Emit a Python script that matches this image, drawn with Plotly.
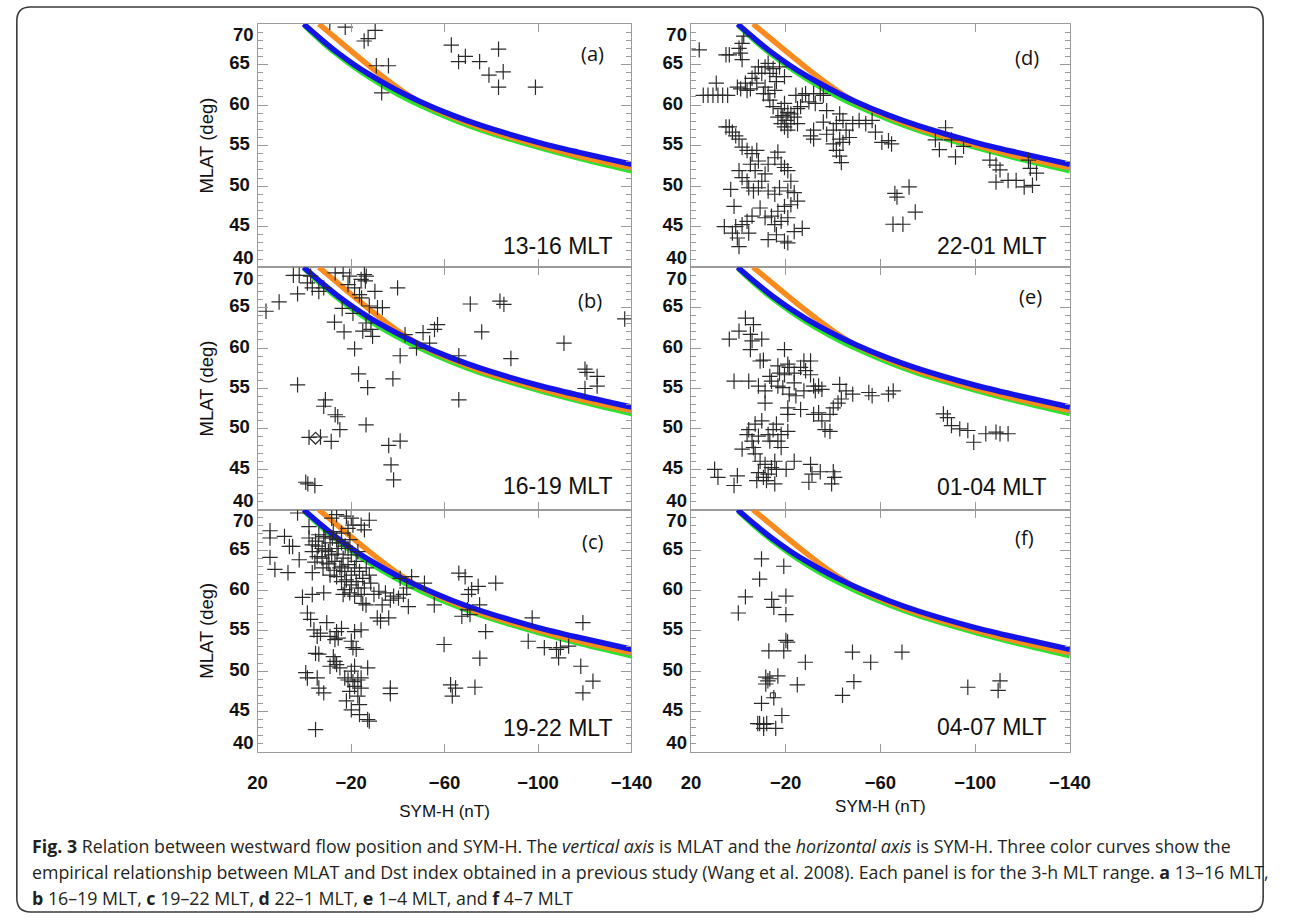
import plotly.graph_objects as go

# ---------------- data ----------------
# empirical MLAT-SYM-H curves
curve_sym_orange = [-6.2, -14.5, -21.5, -28.5, -35.4, -42.4, -49.4, -63.3, -75.9, -100, -117, -140]
curve_mlat_orange = [70.0, 68.0, 66.3, 64.65, 63.1, 61.65, 60.4, 58.55, 57.15, 55.05, 53.75, 52.25]
curve_sym_green = [0.0, -7.6, -14.5, -21.5, -28.5, -35.4, -42.4, -49.4, -63.3, -75.9, -100, -117, -140]
curve_mlat_green = [69.85, 67.8, 66.15, 64.65, 63.3, 62.1, 61.0, 60.0, 58.25, 56.9, 54.8, 53.5, 51.9]
curve_sym_blue = [0.3, -7.6, -14.5, -21.5, -28.5, -35.4, -42.4, -49.4, -63.3, -75.9, -100, -117, -140]
curve_mlat_blue = [70.0, 68.02, 66.4, 64.95, 63.65, 62.5, 61.43, 60.45, 58.75, 57.45, 55.4, 54.2, 52.7]

x_tick_vals = [20, -20, -60, -100, -140]
x_tick_text = ["20", "\u221220", "\u221260", "\u2212100", "\u2212140"]
y_tick_vals = [40, 45, 50, 55, 60, 65, 70]
y_tick_text = ["", "45", "50", "55", "60", "65", ""]
y_end_vals = [41.15, 68.65]
y_end_text = ["40", "70"]

panel_letters = ["(a)", "(b)", "(c)", "(d)", "(e)", "(f)"]
panel_mlt = ["13-16 MLT", "16-19 MLT", "19-22 MLT", "22-01 MLT", "01-04 MLT", "04-07 MLT"]

pts_a = [(-10.9, 70.2), (-17.5, 69.6), (-25.6, 67.9), (-27.3, 68.2), (-30.3, 69.2),
         (-30.8, 64.85), (-36.0, 64.85), (-33.1, 61.5), (-62.9, 67.4), (-66.0, 65.35),
         (-68.9, 66.0), (-75.0, 65.35), (-83.1, 66.9), (-79.0, 63.7), (-85.1, 64.1),
         (-83.1, 62.2), (-98.9, 62.2)]

pts_b = [(16.4, 64.55), (10.8, 65.7), (4.7, 69.0), (2.9, 66.7), (2.2, 69.0), (-1.3, 68.05),
         (-3.4, 67.45), (-6.2, 67.0), (-8.3, 67.45), (-2.7, 68.9), (-13.2, 69.3), (-16.6, 69.3),
         (-19.4, 68.9), (-18.7, 67.85), (-21.5, 67.45), (-24.3, 68.5), (-25.7, 69.1), (-26.5, 68.9),
         (-26.1, 68.3), (-23.6, 66.6), (-24.5, 66.2), (-30.2, 67.0), (-39.9, 67.45), (-16.2, 64.9),
         (-20.8, 64.3), (-27.8, 65.2), (-31.3, 65.0), (-33.4, 65.0), (-12.9, 63.2), (-17.0, 62.0),
         (-25.0, 62.1), (-28.5, 62.3), (-29.2, 61.45), (-26.4, 63.1), (-21.5, 59.9), (-41.0, 59.05),
         (-43.1, 61.65), (-50.8, 61.9), (-55.7, 62.3), (-57.0, 62.9), (-48.0, 60.0), (-53.6, 60.6),
         (-66.1, 59.05), (-71.0, 65.45), (-75.9, 62.0), (2.9, 55.45), (-23.2, 56.8), (-27.1, 55.1),
         (-37.9, 56.2), (-66.1, 53.6), (-9.0, 53.6), (-8.3, 52.8), (-13.2, 51.75), (-14.3, 51.5),
         (-15.2, 49.9), (-26.4, 50.5), (-2.0, 48.95), (-6.9, 49.0), (-11.5, 48.45), (-36.1, 47.95),
         (-41.0, 48.5), (-37.1, 45.55), (-38.2, 43.7), (-0.6, 43.4), (-1.5, 43.2), (-4.5, 43.0),
         (-83.7, 65.8), (-85.4, 65.4), (-88.4, 58.7), (-111.1, 60.6), (-120.1, 57.4), (-120.9, 57.0),
         (-125.3, 56.5), (-120.1, 55.0), (-125.3, 55.3), (-137.1, 63.6)]
pts_b_diamond = [(-4.8, 48.85)]

pts_c = [(14.7, 67.4), (14.7, 66.5), (14.7, 64.1), (12.6, 62.6), (8.5, 66.7), (7.0, 62.2),
         (6.4, 65.45), (5.0, 65.45), (2.2, 63.8), (2.9, 69.6), (-2.0, 67.9), (-3.4, 62.2),
         (0.8, 59.15), (-3.4, 59.5), (-8.3, 59.7),
         (-2.0, 66.5), (-3.4, 65.65), (-4.8, 66.1), (-6.2, 66.9), (-7.6, 65.2), (-8.9, 66.5),
         (-10.3, 64.8), (-3.4, 64.8), (-5.5, 64.2), (-7.6, 64.0), (-9.6, 63.4), (-11.7, 64.4),
         (-13.1, 63.6), (-14.5, 65.2), (-15.2, 62.8), (-16.6, 64.0), (-17.3, 62.35), (-18.7, 63.2),
         (-20.1, 61.9), (-21.5, 62.8), (-22.2, 61.1), (-23.6, 62.35), (-25.0, 61.5), (-25.7, 60.3),
         (-27.8, 61.9), (-28.4, 60.9), (-20.1, 60.7), (-17.3, 60.1), (-16.6, 59.5), (-19.4, 59.7),
         (-21.5, 59.3), (-24.3, 59.5), (-25.0, 58.4), (-26.4, 58.2), (-8.3, 66.7), (-11.0, 65.9),
         (-13.8, 66.3), (-12.4, 67.3), (-15.9, 67.1), (-18.7, 67.7), (-20.1, 68.95), (-18.0, 69.2),
         (-25.7, 67.5), (-27.8, 68.7), (-24.3, 68.1), (-20.8, 68.1), (-11.7, 68.95), (-13.8, 69.4),
         (-15.9, 61.1), (-13.8, 61.7), (-11.0, 61.9), (-22.2, 63.6), (-22.9, 64.8), (-20.1, 64.4),
         (-15.9, 65.9), (-18.7, 65.2), (-6.0, 65.5), (-9.0, 65.0), (-12.0, 66.5), (-14.0, 64.5),
         (-16.0, 63.0), (-10.5, 63.3), (-8.0, 62.8), (-19.5, 66.3), (-17.5, 65.5), (-12.8, 62.5),
         (-4.5, 63.5), (-23.0, 60.3), (-26.5, 62.8), (-18.0, 61.3),
         (-29.8, 59.5), (-31.9, 59.9), (-34.7, 59.7), (-36.8, 58.8), (-38.2, 59.3), (-40.3, 59.05),
         (-42.4, 59.5), (-44.5, 58.0), (-43.8, 60.3), (-41.0, 61.5), (-45.9, 61.7), (-51.4, 60.9),
         (-55.6, 58.2), (-33.3, 58.2), (-32.6, 56.2), (-36.1, 56.6), (-31.2, 56.6),
         (-1.3, 57.2), (-2.7, 56.4), (-4.1, 55.1), (-5.5, 54.3), (-6.9, 54.7), (-9.6, 56.0),
         (-11.0, 54.3), (-13.8, 54.9), (-13.1, 53.9), (-14.5, 54.1), (-15.9, 55.3), (-21.5, 54.9),
         (-24.3, 55.1), (-20.1, 53.7), (-20.8, 52.9), (-22.2, 52.7), (-4.8, 52.2), (-6.2, 52.1),
         (-12.4, 51.8), (-13.1, 51.2), (-13.8, 50.8), (-11.0, 50.6), (-15.2, 50.4), (-21.5, 50.6),
         (-20.1, 50.0), (-27.1, 50.4), (-0.6, 49.8), (-1.3, 49.15), (-5.5, 49.15), (-6.2, 47.9),
         (-8.3, 47.3), (-17.3, 49.15), (-18.7, 48.9), (-20.8, 48.7), (-22.9, 48.9), (-24.3, 49.15),
         (-21.5, 48.1), (-19.4, 47.5), (-24.3, 47.9), (-22.9, 46.9), (-18.0, 46.3), (-20.1, 45.2),
         (-23.6, 45.85), (-23.6, 44.6), (-27.1, 44.0), (-27.8, 43.8), (-4.8, 42.75), (-36.8, 47.9),
         (-36.8, 47.2),
         (-66.1, 62.15), (-68.8, 61.7), (-71.6, 60.1), (-74.4, 60.5), (-70.2, 59.5), (-67.4, 56.8),
         (-70.9, 57.0), (-59.8, 53.3), (-62.6, 48.3), (-63.3, 46.9), (-64.7, 47.9), (-73.0, 48.0),
         (-75.1, 51.6), (-81.9, 60.9), (-75.0, 58.2), (-77.6, 54.9), (-69.8, 57.6), (-97.5, 56.6),
         (-95.8, 53.7), (-102.7, 52.9), (-107.9, 52.7), (-109.6, 52.9), (-108.8, 51.65),
         (-113.1, 53.1), (-119.2, 56.0), (-118.3, 50.6), (-123.5, 48.75), (-119.2, 47.3)]

pts_d = [(16.5, 66.8), (14.8, 61.2), (12.8, 61.2), (10.7, 61.2), (8.6, 61.2), (6.6, 61.2),
         (4.5, 61.2), (9.3, 62.7), (5.2, 66.2), (3.8, 66.2), (-0.3, 67.0), (-1.6, 67.6),
         (-0.9, 66.4), (-1.6, 65.6), (-2.3, 68.5),
         (0.4, 62.2), (-1.0, 62.0), (-3.0, 62.7), (-3.7, 61.8), (-5.1, 62.0), (-5.8, 63.3),
         (-7.1, 63.9), (-8.5, 64.7), (-9.9, 63.9), (-11.3, 64.7), (-12.6, 65.15), (-13.3, 63.9),
         (-14.7, 64.5), (-16.1, 62.9), (-15.4, 61.8), (-11.3, 62.2), (-12.6, 61.4), (-10.6, 61.4),
         (-13.3, 60.6), (-14.7, 59.8), (-18.1, 59.55), (-19.5, 60.2), (-20.9, 59.1), (-18.8, 58.7),
         (-16.7, 58.5), (-18.1, 57.7), (-20.2, 58.1), (-22.2, 58.9), (-23.6, 58.5), (-25.0, 59.55),
         (-26.3, 59.8), (-27.0, 61.2), (-24.3, 61.2), (-28.4, 61.4), (-29.8, 60.4), (-22.2, 57.7),
         (-25.0, 57.7), (-19.5, 57.3), (-20.9, 56.9), (-17.4, 64.7), (-19.5, 63.5), (-16.1, 63.5),
         (-7.8, 62.7),
         (-31.8, 61.4), (-34.6, 61.4), (-35.9, 61.2), (-32.5, 60.2), (-37.3, 59.3), (-35.9, 57.9),
         (-31.8, 56.9), (-30.5, 56.2), (-31.8, 55.8), (-37.3, 56.4), (-40.1, 56.9), (-41.4, 57.7),
         (-42.8, 58.9), (-44.2, 58.1), (-45.5, 56.9), (-46.9, 56.0), (-42.8, 55.8), (-44.2, 55.4),
         (-40.1, 55.2), (-41.4, 54.4), (-42.8, 53.7), (-43.5, 52.9), (-48.3, 57.7), (-51.0, 58.1),
         (-53.8, 57.7), (-56.5, 58.1), (-57.9, 56.65), (-60.6, 55.4), (-63.4, 55.6), (-64.7, 55.2),
         (5.2, 57.3), (3.8, 57.3), (2.5, 56.65), (1.1, 56.2), (-0.3, 55.8), (-1.6, 54.8),
         (-3.7, 54.4), (-5.8, 54.0), (-7.8, 54.4), (-8.5, 53.1), (-5.1, 52.7), (-7.1, 51.9),
         (-0.3, 51.9), (-1.6, 51.05), (-3.7, 50.6), (-4.4, 49.8), (-6.4, 49.4), (-8.5, 49.8),
         (-9.9, 50.6), (-11.3, 51.5), (-12.6, 52.7), (-15.4, 53.5), (-16.7, 54.2), (-18.1, 52.7),
         (-19.5, 52.3), (-20.9, 51.9), (-22.2, 50.6), (-12.6, 49.4), (-15.4, 49.0), (-17.4, 49.8),
         (-20.9, 49.4), (-23.6, 49.2), (-25.0, 48.15), (-22.2, 47.7), (-19.5, 47.5), (-16.7, 46.9),
         (-14.0, 46.3), (-11.3, 46.1), (-9.2, 47.3), (-5.8, 46.3), (-3.7, 45.65), (-1.6, 45.25),
         (1.1, 45.0), (5.9, 45.0), (2.5, 44.2), (0.4, 43.6), (-0.3, 42.55), (-4.4, 44.2),
         (-12.6, 43.4), (-16.1, 44.0), (-19.5, 43.2), (-20.9, 43.0), (-23.6, 44.4), (-27.0, 44.8),
         (-15.4, 45.25), (-18.1, 45.65), (-20.9, 46.1), (3.2, 49.6), (1.8, 47.5),
         (-66.1, 49.1), (-67.0, 48.65), (-72.1, 49.9), (-65.3, 45.3), (-69.5, 45.3), (-74.7, 46.8),
         (-87.5, 57.2), (-84.9, 54.5), (-83.2, 55.7), (-90.0, 55.7), (-91.7, 53.6), (-95.1, 54.9),
         (-106.2, 53.2), (-108.8, 52.6), (-110.5, 52.0), (-108.8, 50.5), (-113.9, 50.7),
         (-117.3, 50.7), (-120.7, 49.9), (-124.2, 50.1), (-125.9, 51.6), (-122.5, 53.2),
         (-123.3, 52.2)]

pts_e = [(-3.0, 63.7), (-6.4, 62.9), (-0.3, 62.1), (3.8, 61.1), (-5.1, 61.7), (-5.8, 60.9),
         (-9.9, 61.1), (-5.1, 59.8), (-19.5, 59.8), (-9.2, 58.4), (-10.6, 58.5), (-16.7, 57.8),
         (-20.9, 58.0), (-21.5, 57.6), (-17.4, 56.9), (-19.5, 56.7), (-23.6, 56.9), (-26.3, 57.6),
         (-27.7, 58.4), (-30.5, 58.4), (-28.4, 57.2), (-30.5, 56.7), (-13.3, 56.5), (-14.0, 55.9),
         (1.8, 55.9), (-4.4, 55.9), (-8.5, 55.3), (-11.3, 54.7), (-11.3, 53.2), (-16.7, 55.3),
         (-18.8, 55.1), (-21.5, 54.3), (-24.3, 54.1), (-23.6, 55.7), (-27.7, 54.7), (-26.3, 52.4),
         (-31.8, 55.3), (-33.9, 55.3), (-35.3, 54.9), (-32.5, 54.7), (-20.9, 52.6), (-20.9, 51.8),
         (-31.8, 51.8), (-33.9, 52.0), (-35.3, 51.0), (-36.6, 49.9), (-38.7, 49.7), (-38.7, 51.8),
         (-40.1, 52.6), (-42.1, 53.2), (-43.5, 53.7), (-42.8, 55.5), (-45.5, 54.7), (-48.3, 54.3),
         (-55.1, 54.5), (-56.5, 54.1), (-63.4, 54.3), (-65.4, 54.7), (-4.4, 49.9), (-7.1, 50.6),
         (-9.9, 51.0), (-3.7, 49.3), (-5.8, 48.5), (-1.6, 47.5), (-6.4, 47.7), (-8.5, 49.1),
         (-12.6, 49.3), (-14.7, 49.9), (-16.1, 50.6), (-18.1, 49.3), (-20.9, 49.7), (-16.7, 48.5),
         (-18.1, 47.7), (-13.3, 48.5), (-7.1, 46.9), (-9.2, 46.0), (-11.3, 45.6), (-14.0, 45.2),
         (-16.1, 45.0), (-20.2, 45.0), (-23.6, 46.0), (-8.5, 44.6), (-10.6, 44.0), (-12.6, 44.4),
         (-11.9, 43.6), (-15.4, 43.2), (-7.8, 43.6), (10.0, 45.0), (8.6, 44.0), (0.4, 44.2),
         (1.8, 43.0), (-30.5, 45.6), (-31.1, 44.4), (-29.8, 43.4), (-34.6, 44.7), (-40.1, 44.7),
         (-40.7, 44.0), (-39.4, 43.2), (-15.4, 46.0),
         (-86.6, 51.85), (-88.3, 51.4), (-90.0, 50.4), (-93.5, 50.0), (-96.9, 49.8), (-99.4, 48.35),
         (-104.5, 49.4), (-108.8, 49.6), (-110.5, 49.4), (-113.9, 49.4)]

pts_f = [(-9.8, 63.9), (-19.2, 63.0), (-9.0, 61.4), (-3.0, 59.2), (0.0, 57.2), (-14.1, 58.9),
         (-15.0, 57.9), (-20.1, 59.3), (-20.1, 57.0), (-20.1, 53.8), (-20.8, 53.6), (-19.2, 52.5),
         (-12.9, 52.5), (-28.3, 51.1), (-48.2, 52.35), (-55.9, 51.1), (-69.1, 52.35), (-48.8, 48.7),
         (-44.0, 47.0), (-24.9, 48.3), (-11.6, 49.25), (-13.3, 49.05), (-11.6, 48.4), (-16.7, 49.4),
         (-12.5, 48.8), (-15.0, 46.7), (-9.8, 46.0), (-18.4, 44.5), (-9.0, 43.5), (-10.7, 43.4),
         (-12.0, 43.5), (-8.2, 43.5), (-10.7, 42.9), (-15.8, 42.9), (-96.9, 48.0), (-110.5, 48.8),
         (-109.7, 47.6)]
pts_f_square = [(-14.6, 47.0)]

panel_points = [pts_a, pts_b, pts_c, pts_d, pts_e, pts_f]

caption_lines = [
    "<b>Fig. 3</b> Relation between westward flow position and SYM-H. The <i>vertical axis</i> is MLAT and the <i>horizontal axis</i> is SYM-H. Three color curves show the",
    "empirical relationship between MLAT and Dst index obtained in a previous study (Wang et al. 2008). Each panel is for the 3-h MLT range. <b>a</b> 13\u201316 MLT,",
    "<b>b</b> 16\u201319 MLT, <b>c</b> 19\u201322 MLT, <b>d</b> 22\u20131 MLT, <b>e</b> 1\u20134 MLT, and <b>f</b> 4\u20137 MLT",
]

# ---------------- layout constants ----------------
W, H = 1290, 920
AX_GRAY = "#9a9a9a"
SANS = "Liberation Sans"
X_DOMS = [[253.7 / W, 636.8 / W], [697.7 / W, 1086.0 / W]]
ROW_PIX = [(24.0, 267.5), (267.5, 510.3), (510.3, 752.6)]
Y_DOMS = [[1 - b / H, 1 - t / H] for (t, b) in ROW_PIX]

letter_pos = [(0.896, 0.878), (0.890, 0.862), (0.896, 0.870),
              (0.886, 0.864), (0.897, 0.880), (0.881, 0.885)]
mlt_pos = [(0.956, 0.088), (0.956, 0.097), (0.956, 0.100),
           (0.945, 0.088), (0.945, 0.095), (0.945, 0.104)]

tick_font = dict(family=SANS, size=18.5, color="#111111", weight="bold")

fig = go.Figure()
layout_axes = {}
annotations = []

for i in range(6):
    n = i + 1
    col = 0 if i < 3 else 1
    row = i % 3
    xa = "x" if n == 1 else f"x{n}"
    ya = "y" if n == 1 else f"y{n}"
    ya2 = f"y{n + 6}"

    for sx, sy, colr in [(curve_sym_green, curve_mlat_green, "#2fe02f"),
                         (curve_sym_orange, curve_mlat_orange, "#f98b1e"),
                         (curve_sym_blue, curve_mlat_blue, "#1414e6")]:
        fig.add_trace(go.Scatter(x=sx, y=sy, mode="lines", xaxis=xa, yaxis=ya,
                                 line=dict(color=colr, width=5.5, shape="spline", smoothing=0.8),
                                 showlegend=False, hoverinfo="skip"))

    pts = panel_points[i]
    fig.add_trace(go.Scatter(x=[p[0] for p in pts], y=[p[1] for p in pts], mode="markers",
                             xaxis=xa, yaxis=ya, showlegend=False,
                             marker=dict(symbol="cross-thin", size=11,
                                         line=dict(color="#2a2a2a", width=1.2))))
    if i == 1:
        fig.add_trace(go.Scatter(x=[p[0] for p in pts_b_diamond], y=[p[1] for p in pts_b_diamond],
                                 mode="markers", xaxis=xa, yaxis=ya, showlegend=False,
                                 marker=dict(symbol="diamond-open", size=9, color="#2a2a2a",
                                             line=dict(color="#2a2a2a", width=1.2))))
    if i == 5:
        fig.add_trace(go.Scatter(x=[p[0] for p in pts_f_square], y=[p[1] for p in pts_f_square],
                                 mode="markers", xaxis=xa, yaxis=ya, showlegend=False,
                                 marker=dict(symbol="square-open", size=5, color="#2a2a2a",
                                             line=dict(color="#2a2a2a", width=1))))
    # invisible trace so that the end-label axis is drawn
    fig.add_trace(go.Scatter(x=[None], y=[None], xaxis=xa, yaxis=ya2, mode="markers",
                             showlegend=False, hoverinfo="skip"))

    xkey = "xaxis" if n == 1 else f"xaxis{n}"
    ykey = "yaxis" if n == 1 else f"yaxis{n}"
    bottom = row == 2
    xdict = dict(domain=X_DOMS[col], anchor=ya, range=[20, -140],
                 tickvals=x_tick_vals, ticktext=x_tick_text,
                 showticklabels=bottom, ticks="inside", ticklen=8, tickwidth=1.2,
                 tickcolor=AX_GRAY, showline=True, linecolor=AX_GRAY, linewidth=1.2,
                 mirror="ticks", showgrid=False, zeroline=False,
                 tickfont=tick_font, ticklabelstandoff=14)
    if bottom:
        xdict["title"] = dict(text="SYM-H (nT)", standoff=13 if col == 0 else 8,
                              font=dict(family=SANS, size=17, color="#111111"))
    layout_axes[xkey] = xdict

    ydict = dict(domain=Y_DOMS[row], anchor=xa, range=[40, 70],
                 tickvals=y_tick_vals, ticktext=y_tick_text,
                 ticks="inside", ticklen=10, tickwidth=1.2,
                 tickcolor=AX_GRAY, showline=True, linecolor=AX_GRAY, linewidth=1.2,
                 mirror="ticks", showgrid=False, zeroline=False,
                 minor=dict(dtick=1, tick0=40, ticks="inside", ticklen=5,
                            tickcolor=AX_GRAY, tickwidth=1),
                 tickfont=tick_font, ticklabelstandoff=3, ticklabelshift=-2)
    if col == 0:
        ydict["title"] = dict(text="MLAT (deg)", standoff=10,
                              font=dict(family=SANS, size=18.5, color="#111111"))
    layout_axes[ykey] = ydict

    layout_axes[f"yaxis{n + 6}"] = dict(overlaying=ya, anchor=xa, side="left", range=[40, 70],
                                        tickvals=y_end_vals, ticktext=y_end_text, ticks="",
                                        showline=False, showgrid=False, zeroline=False,
                                        tickfont=tick_font, ticklabelstandoff=3)

    lx, ly = letter_pos[i]
    annotations.append(dict(text=panel_letters[i], x=lx, y=ly,
                            xref=f"{xa} domain", yref=f"{ya} domain",
                            xanchor="center", yanchor="middle", showarrow=False,
                            font=dict(family="Open Sans", size=20, color="#111111")))
    mx, my = mlt_pos[i]
    annotations.append(dict(text=panel_mlt[i], x=mx, y=my,
                            xref=f"{xa} domain", yref=f"{ya} domain",
                            xanchor="right", yanchor="middle", showarrow=False,
                            font=dict(family=SANS, size=23, color="#111111")))

cap_y = [847, 873, 899]
for line, yy in zip(caption_lines, cap_y):
    annotations.append(dict(text=line, x=20 / W, y=1 - yy / H, xref="paper", yref="paper",
                            xanchor="left", yanchor="middle", showarrow=False,
                            font=dict(family="Open Sans", size=17.8, color="#231f20")))

# rounded outer frame
x0, x1, y0, y1, r = 7, 1284, 7, 913, 14
def px(x):
    return x / W
def py(y):
    return 1 - y / H
path = (f"M {px(x0 + r)},{py(y0)} L {px(x1 - r)},{py(y0)} Q {px(x1)},{py(y0)} {px(x1)},{py(y0 + r)} "
        f"L {px(x1)},{py(y1 - r)} Q {px(x1)},{py(y1)} {px(x1 - r)},{py(y1)} "
        f"L {px(x0 + r)},{py(y1)} Q {px(x0)},{py(y1)} {px(x0)},{py(y1 - r)} "
        f"L {px(x0)},{py(y0 + r)} Q {px(x0)},{py(y0)} {px(x0 + r)},{py(y0)} Z")

fig.update_layout(
    width=W, height=H, margin=dict(l=0, r=0, t=0, b=0),
    paper_bgcolor="white", plot_bgcolor="white",
    annotations=annotations,
    shapes=[dict(type="path", path=path, xref="paper", yref="paper",
                 line=dict(color="#3a3a3a", width=1.6), layer="below")],
    **layout_axes,
)

fig.write_html("out.html")
